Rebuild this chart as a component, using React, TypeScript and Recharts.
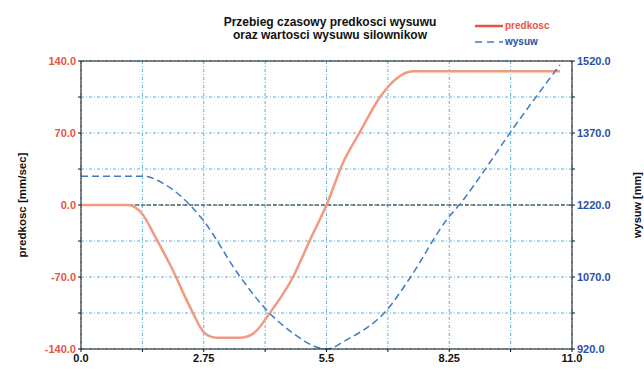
import { LineChart, Line, XAxis, YAxis, CartesianGrid, ReferenceLine } from 'recharts';

// time [s] and velocity [mm/sec]
const predkoscT = [0, 1.06, 1.36, 1.7, 2.03, 2.44, 2.78, 3.04, 3.56, 3.86, 4.23, 4.75, 5.13, 5.5, 5.87, 6.25, 6.7, 7.07, 7.44, 10.73];
const predkoscV = [0, 0, -8, -34, -61, -99, -125, -129, -129, -125, -105, -70, -34, 0, 41, 71, 105, 123, 130, 130];

// time [s] and stroke [mm]
const wysuwT = [0, 1.39, 1.84, 2.44, 2.73, 3.56, 4.16, 4.75, 5.35, 5.51, 5.95, 6.85, 7.37, 8.19, 8.56, 8.94, 9.61, 10.73];
const wysuwV = [1280, 1280, 1265, 1220, 1189, 1071, 1001, 953, 922, 920, 939, 1001, 1068, 1189, 1230, 1279, 1370, 1512];

const xTicks = [0, 1.375, 2.75, 4.125, 5.5, 6.875, 8.25, 9.625, 11];
const xLabels = ['0.0', '', '2.75', '', '5.5', '', '8.25', '', '11.0'];
const leftTicks = [-140, -105, -70, -35, 0, 35, 70, 105, 140];
const rightTicks = [920, 995, 1070, 1145, 1220, 1295, 1370, 1445, 1520];

const predkoscData = predkoscT.map((t, i) => ({ t, v: predkoscV[i] }));
const wysuwData = wysuwT.map((t, i) => ({ t, v: wysuwV[i] }));

const FONT = '"Liberation Sans", Arial, sans-serif';
const RED = '#e8553f';
const BLUE = '#2a4fa6';

export default function App() {
  return (
    <div style={{ position: 'absolute', left: 0, top: 0, width: 644, height: 370, background: '#fff', fontFamily: FONT }}>
      <div style={{ position: 'absolute', left: 190, top: 16, width: 280, textAlign: 'center', fontSize: 12, fontWeight: 'bold', lineHeight: '13px', color: '#111' }}>
        Przebieg czasowy predkosci wysuwu
        <br />
        oraz wartosci wysuwu silownikow
      </div>
      <div style={{ position: 'absolute', left: 475, top: 18, fontSize: 10, fontWeight: 'bold', lineHeight: '16px' }}>
        <div style={{ display: 'flex', alignItems: 'center', color: RED }}>
          <svg width={30} height={6}><line x1={0} y1={3} x2={28} y2={3} stroke={RED} strokeWidth={2.5} /></svg>
          predkosc
        </div>
        <div style={{ display: 'flex', alignItems: 'center', color: BLUE }}>
          <svg width={30} height={6}><line x1={0} y1={3} x2={28} y2={3} stroke="#3c7cc8" strokeWidth={1.5} strokeDasharray="7 5" /></svg>
          wysuw
        </div>
      </div>
      <LineChart width={644} height={370} margin={{ top: 61, right: 0, bottom: 3, left: 16 }}>
        <CartesianGrid yAxisId="left" stroke="#5ab2da" strokeDasharray="3 2 1 2" strokeWidth={1} />
        <XAxis
          type="number"
          dataKey="t"
          domain={[0, 11]}
          ticks={xTicks}
          tickFormatter={(v: number) => xLabels[xTicks.indexOf(v)] ?? ''}
          height={18}
          stroke="#111"
          tickLine={{ stroke: '#111' }}
          tickSize={3}
          tick={{ fill: '#111', fontSize: 11, fontWeight: 'bold', fontFamily: FONT }}
          allowDataOverflow
        />
        <YAxis
          yAxisId="left"
          domain={[-140, 140]}
          ticks={leftTicks}
          tickFormatter={(v: number) => (v % 70 === 0 ? v.toFixed(1) : '')}
          width={65}
          stroke="#111"
          tickSize={3}
          tick={{ fill: RED, fontSize: 11, fontWeight: 'bold', fontFamily: FONT }}
          label={{ value: 'predkosc [mm/sec]', angle: -90, position: 'insideLeft', offset: 6, style: { fill: '#111', fontSize: 11.5, fontWeight: 'bold', fontFamily: FONT, textAnchor: 'middle' } }}
        />
        <YAxis
          yAxisId="right"
          orientation="right"
          domain={[920, 1520]}
          ticks={rightTicks}
          tickFormatter={(v: number) => ((v - 920) % 150 === 0 ? v.toFixed(1) : '')}
          width={72}
          stroke="#111"
          tickSize={3}
          tick={{ fill: BLUE, fontSize: 11, fontWeight: 'bold', fontFamily: FONT }}
          label={{ value: 'wysuw [mm]', angle: -90, position: 'insideRight', offset: 7, style: { fill: '#111', fontSize: 11, fontWeight: 'bold', fontFamily: FONT, textAnchor: 'middle' } }}
        />
        <ReferenceLine yAxisId="left" y={0} stroke="#222" strokeDasharray="4 2" />
        <ReferenceLine yAxisId="left" y={140} stroke="#111" />
        <Line
          yAxisId="left"
          data={predkoscData}
          dataKey="v"
          type="monotone"
          stroke="#f29a80"
          strokeWidth={2.5}
          dot={false}
          isAnimationActive={false}
        />
        <Line
          yAxisId="right"
          data={wysuwData}
          dataKey="v"
          type="monotone"
          stroke="#3c7cc8"
          strokeWidth={1.5}
          strokeDasharray="7 4"
          dot={false}
          isAnimationActive={false}
        />
      </LineChart>
    </div>
  );
}
